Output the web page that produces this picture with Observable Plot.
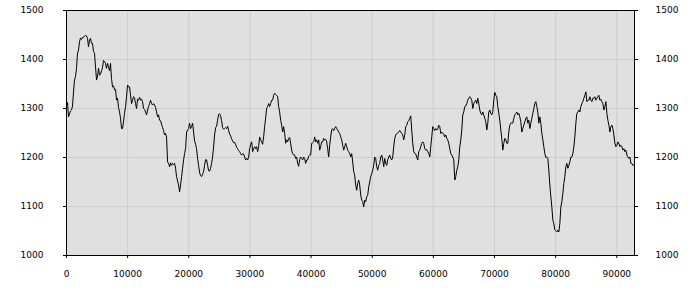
<!DOCTYPE html>
<html>
<head>
<meta charset="utf-8">
<script src="https://cdn.jsdelivr.net/npm/d3@7"></script>
<script src="https://cdn.jsdelivr.net/npm/@observablehq/plot@0.6"></script>
<style>
  body { margin: 0; background: #ffffff; }
  #chart svg { display: block; }
</style>
</head>
<body>
<div id="chart"></div>
<script>
// x distance between consecutive samples
const sampleStep = 163.67;

// series values (three consecutive stretches)
const part1 = [
  1304,1312,1283,1289,1295,1297,1305,1334,1358,1365,1382,1413,1419,1436,1444,1441,1445,1445,1448,1449,
  1448,1443,1426,1440,1443,1433,1433,1416,1413,1385,1358,1366,1382,1368,1370,1377,1384,1398,1396,1392,
  1382,1392,1385,1377,1392,1361,1344,1346,1338,1339,1317,1321,1302,1293,1280,1259,1259,1273,1290,1304,
  1324,1348,1344,1344,1327,1310,1317,1324,1321,1310,1300,1319,1317,1323,1317,1319,1314,1300,1298,1293,
  1287,1297,1304,1310,1317,1310,1307,1310,1307,1302,1293,1283,1287,1276,1275,1268,1261,1255,1246,1249,
  1242,1191,1188,1181,1189,1184,1188,1186,1188,1178,1161,1152,1144,1130,1144,1161,1178,1195,1208,1218,
  1252,1256,1259,1270,1259,1263,1270,1252,1234,1227,1218,1198,1184,1169,1163,1161,1166,1171,1184,1196,
  1195,1184,1173,1172,1178,1188,1201,1222,1246,1261,1264,1276,1288,1289,1285,1275,1261,1258,1259,1261,
  1259,1264,1255,1248,1244,1238,1234,1230,1231,1227,1221,1218,1214,1212
];
const part2 = [
  1208,1205,1208,1207,1201,1195,1198,1195,1201,1218,1227,1232,1212,1218,1222,1218,1222,1212,1222,1242,
  1236,1232,1227,1242,1263,1280,1300,1304,1310,1304,1310,1317,1317,1327,1331,1329,1327,1324,1304,1293,
  1276,1266,1252,1263,1249,1229,1236,1232,1239,1241,1229,1215,1208,1205,1205,1198,1201,1188,1182,1196,
  1201,1198,1195,1201,1198,1188,1195,1195,1203,1205,1205,1229,1230,1232,1242,1232,1236,1229,1236,1215,
  1222,1232,1232,1239,1236,1237,1232,1218,1201,1225,1242,1256,1259,1255,1259,1263,1259,1256,1252,1249,
  1242,1236,1225,1215,1222,1229,1222,1215,1212,1208,1201,1208,1191,1171,1164,1144,1133,1147,1154,1144,
  1123,1113,1110,1099,1113,1110,1120,1123,1140,1150,1161,1167,1174,1184,1201,1198,1181,1174,1184,1188,
  1201,1205,1195,1181,1198,1188,1184,1195,1201,1205,1198,1195,1201,1222,1239,1246,1249,1250,1252,1255,
  1252,1249,1246,1236,1246,1263,1266,1273,1275,1280,1285,1256,1229,1212,1208,1207,1201,1195,1212,1215,
  1222,1229,1232,1229,1218,1215,1216,1212,1208,1201,1222,1242,1263,1259,1255,1259,1256,1259,1266,1263,
  1249,1252,1249,1248,1242,1246,1239,1236,1229,1218,1208,1205,1201,1195,1154,1161,1174,1181,1195,1222,
  1236,1256,1287,1293,1304,1305,1310,1317,1321,1324
];
const part3 = [
  1321,1317,1300,1310,1314,1317,1310,1321,1310,1297,1290,1287,1293,1287,1280,1273,1256,1270,1293,1297,
  1290,1287,1293,1317,1333,1327,1324,1304,1290,1276,1256,1239,1215,1229,1239,1236,1229,1229,1252,1266,
  1270,1271,1270,1280,1287,1290,1293,1287,1290,1283,1273,1252,1259,1266,1273,1280,1283,1270,1276,1259,
  1270,1280,1290,1300,1310,1314,1304,1293,1270,1283,1270,1249,1236,1222,1208,1200,1201,1198,1174,1144,
  1120,1099,1072,1065,1052,1050,1048,1052,1048,1065,1099,1110,1127,1147,1161,1181,1188,1178,1184,1191,
  1201,1201,1208,1222,1242,1270,1290,1293,1297,1293,1304,1310,1314,1321,1327,1334,1314,1317,1317,1324,
  1317,1314,1321,1321,1324,1317,1321,1324,1327,1317,1319,1314,1310,1297,1304,1314,1290,1276,1266,1252,
  1263,1266,1259,1246,1229,1222,1225,1232,1229,1222,1225,1222,1215,1218,1212,1215,1205,1201,1198,1201,
  1188,1188,1184,1184
];

const xTicks = [0, 10000, 20000, 30000, 40000, 50000, 60000, 70000, 80000, 90000];
const yTicks = [1000, 1100, 1200, 1300, 1400, 1500];

const values = part1.concat(part2, part3);
const series = values.map((v, i) => ({x: i * sampleStep, y: v}));

const fmt = d => String(d);

const chart = Plot.plot({
  width: 700,
  height: 300,
  marginLeft: 66,
  marginRight: 66,
  marginTop: 10,
  marginBottom: 45,
  style: {fontFamily: "'DejaVu Sans', Verdana, sans-serif", fontSize: "9px", background: "#ffffff", color: "#000000"},
  x: {domain: [0, 92900]},
  y: {domain: [1000, 1500]},
  marks: [
    Plot.frame({fill: "#e0e0e0"}),
    Plot.gridX(xTicks, {stroke: "#cccccc", strokeOpacity: 1}),
    Plot.gridY(yTicks, {stroke: "#cccccc", strokeOpacity: 1}),
    Plot.line(series, {x: "x", y: "y", stroke: "#000000", strokeWidth: 1}),
    Plot.frame({stroke: "#000000", strokeWidth: 1}),
    Plot.axisX(xTicks, {tickFormat: fmt, tickSize: 3, tickPadding: 12, label: null, stroke: "#000000"}),
    Plot.axisY(yTicks, {anchor: "left", tickFormat: fmt, tickSize: 3, tickPadding: 20, label: null}),
    Plot.axisY(yTicks, {anchor: "right", tickFormat: fmt, tickSize: 3, tickPadding: 18, label: null})
  ]
});
document.getElementById("chart").appendChild(chart);
</script>
</body>
</html>
